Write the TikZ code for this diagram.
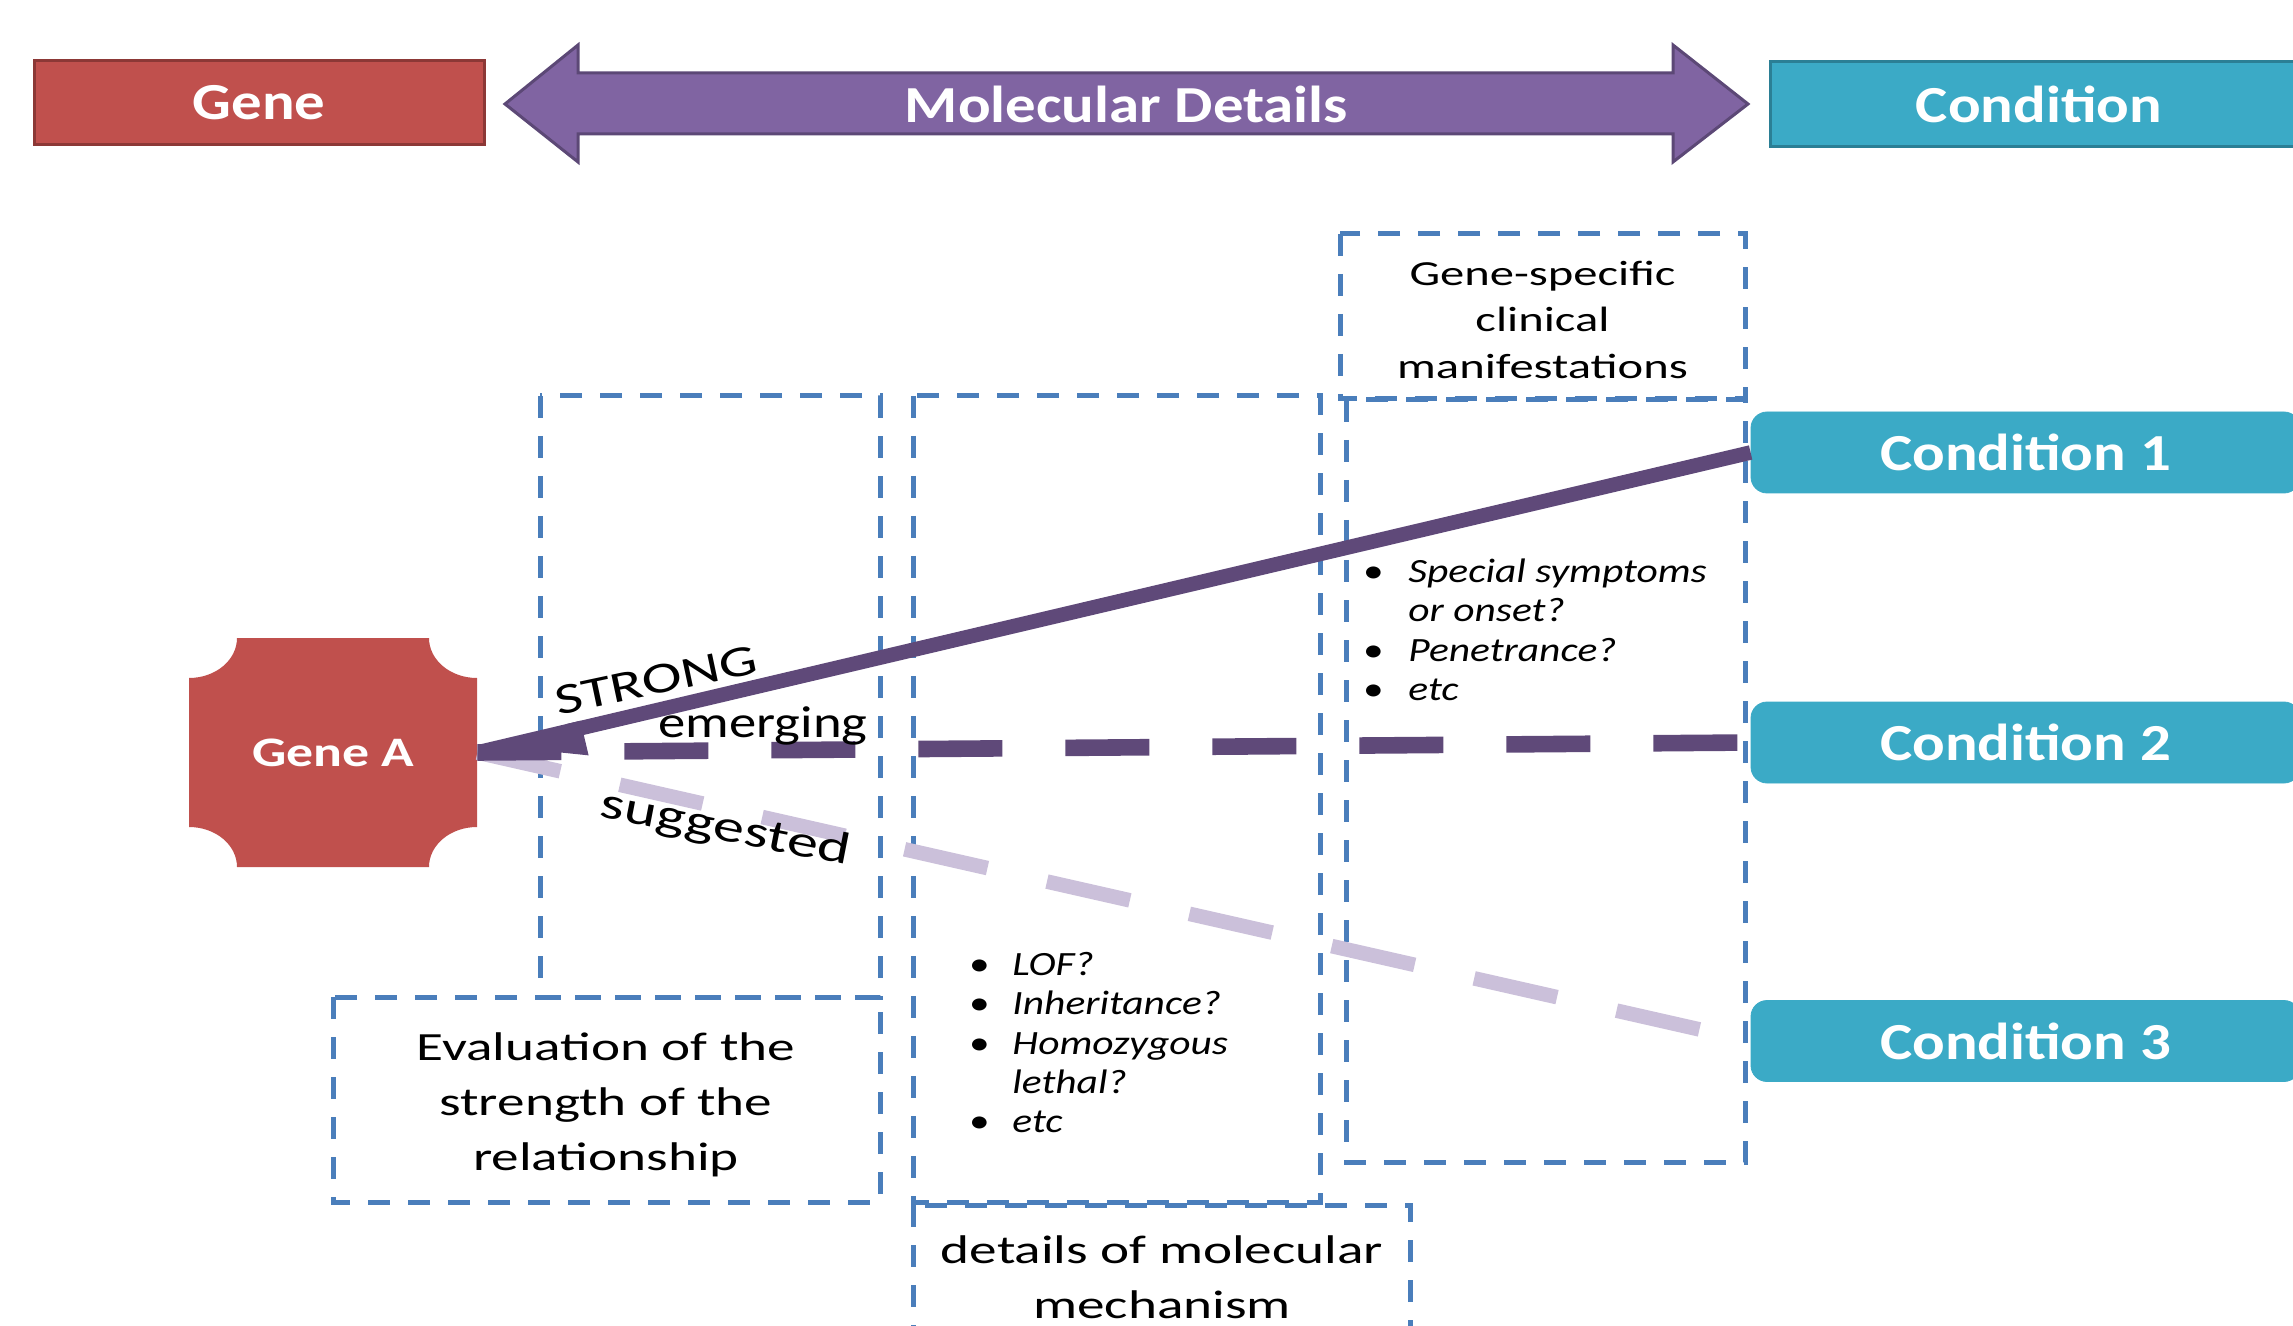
\documentclass[tikz,border=0pt]{standalone}
\usepackage{fontspec}
\setmainfont{Carlito}
\newfontfamily\fA[FakeStretch=1.17]{Carlito}
\newfontfamily\fB[FakeStretch=1.28]{Carlito}
\newfontfamily\fC[FakeStretch=1.38]{Carlito}
\newfontfamily\fD[FakeStretch=1.22]{Carlito}
\usetikzlibrary{arrows.meta}
\definecolor{genered}{HTML}{C0504D}
\definecolor{generedd}{HTML}{8C3836}
\definecolor{molpurple}{HTML}{8064A2}
\definecolor{molpurpled}{HTML}{5C4876}
\definecolor{condblue}{HTML}{3BAAC6}
\definecolor{condblued}{HTML}{2B7F95}
\definecolor{linepurple}{HTML}{5F4979}
\definecolor{lightpurple}{HTML}{CBC0DA}
\definecolor{boxblue}{HTML}{4A7EBB}
\begin{document}
\begin{tikzpicture}[x=0.5pt,y=-0.5pt,
  hdrfont/.style={font=\fA\bfseries\fontsize{26}{30}\selectfont, text=white},
  hdrbox/.style={hdrfont, inner sep=0, line width=1.5pt},
  cond/.style={hdrfont, inner sep=0, fill=condblue, draw=condblue, rounded corners=8pt,
    minimum width=274.5pt, minimum height=40.5pt},
  dbox/.style={draw=boxblue, line width=2.5pt, dash pattern=on 11pt off 9pt},
  bodytxt/.style={inner sep=0, text=black},
  itemlist/.style={inner sep=0, anchor=north west, font=\fD\itshape\fontsize{17}{19.7}\selectfont},
  lbl/.style={inner sep=0, anchor=base, text=black}
]
\useasboundingbox (0,0) rectangle (2293,1326);
\clip (0,0) rectangle (2293,1326);

% header row
\node[hdrbox, fill=genered, draw=generedd, minimum width=225pt, minimum height=42pt] (gene) at (259,103) {Gene};
\draw[fill=molpurple, draw=molpurpled, line width=1.5pt]
  (505,104) -- (578,45) -- (578,73) -- (1673,73) -- (1673,45) -- (1748,104)
  -- (1673,162) -- (1673,134) -- (578,134) -- (578,162) -- cycle;
\node[hdrfont, inner sep=0] (mol) at (1126.5,104) {Molecular Details};
\node[hdrbox, fill=condblue, draw=condblued, minimum width=269pt, minimum height=42.5pt] (condhdr) at (2039,104.5) {Condition};

% dashed boxes
\draw[dbox] (540,396) rectangle (880,997);
\draw[dbox] (333,997) rectangle (880,1202);
\draw[dbox] (913,396) rectangle (1320,1202);
\draw[dbox] (913,1205) rectangle (1410,1345);
\draw[dbox] (1340,234) rectangle (1745,399);
\draw[dbox] (1346,400) rectangle (1745,1162);

% box texts
\node[bodytxt, font=\fC\fontsize{17.6}{23.35}\selectfont] (clin) at (1542.5,322.4)
  {\begin{tabular}{@{}c@{}}Gene-specific\\clinical\\manifestations\end{tabular}};
\node[bodytxt, font=\fC\fontsize{20}{27.5}\selectfont] (eval) at (606,1104)
  {\begin{tabular}{@{}c@{}}Evaluation of the\\strength of the\\relationship\end{tabular}};
\node[bodytxt, font=\fC\fontsize{20}{27.5}\selectfont] (mech) at (1162,1280)
  {\begin{tabular}{@{}c@{}}details of molecular\\mechanism\end{tabular}};

\node[itemlist] (clinlist) at (1338,554.4)
  {\begin{tabular}{@{}l@{}l@{}}
   \makebox[35pt]{\upshape\textbullet} & Special symptoms\\
   & or onset?\\
   \makebox[35pt]{\upshape\textbullet} & Penetrance?\\
   \makebox[35pt]{\upshape\textbullet} & etc
   \end{tabular}};
\node[itemlist] (mechlist) at (946,947.4)
  {\begin{tabular}{@{}l@{}l@{}}
   \makebox[33pt]{\upshape\textbullet} & LOF?\\
   \makebox[33pt]{\upshape\textbullet} & Inheritance?\\
   \makebox[33pt]{\upshape\textbullet} & Homozygous\\
   & lethal?\\
   \makebox[33pt]{\upshape\textbullet} & etc
   \end{tabular}};

% Gene A
\fill[genered] (237,638) -- (429,638)
  arc[start angle=180, end angle=90, x radius=48, y radius=40] -- (477,827)
  arc[start angle=270, end angle=180, x radius=48, y radius=40] -- (237,867)
  arc[start angle=0, end angle=-90, x radius=48, y radius=40] -- (189,678)
  arc[start angle=90, end angle=0, x radius=48, y radius=40] -- cycle;
\node[font=\fB\bfseries\fontsize{21}{25}\selectfont, text=white, inner sep=0,
  minimum width=144pt, minimum height=114.5pt] (geneA) at (333,752.5) {Gene A};

% conditions
\node[cond] (c1) at (2025.5,452.5) {Condition 1};
\node[cond] (c2) at (2025.5,742.5) {Condition 2};
\node[cond] (c3) at (2025.5,1041) {Condition 3};

% relations
\draw[lightpurple, line width=7.3pt, dash pattern=on 42.5pt off 30.5pt] (geneA.east) -- (c3.west);
\draw[linepurple, line width=8.3pt, dash pattern=on 42pt off 31.5pt] (geneA.east) -- (c2.west);
\draw[linepurple, line width=7.3pt, {Triangle[length=42pt,width=26pt,left]}-] (geneA.east) -- (c1.west);

\node[lbl, font=\fC\fontsize{21.8}{26}\selectfont, rotate=12] (strong) at (659,694) {STRONG};
\node[lbl, font=\fD\fontsize{22.4}{26}\selectfont] (emerging) at (763,737) {emerging};
\node[lbl, font=\fC\fontsize{22.5}{26}\selectfont, rotate=-11] (suggested) at (723,841) {suggested};
\end{tikzpicture}
\end{document}
